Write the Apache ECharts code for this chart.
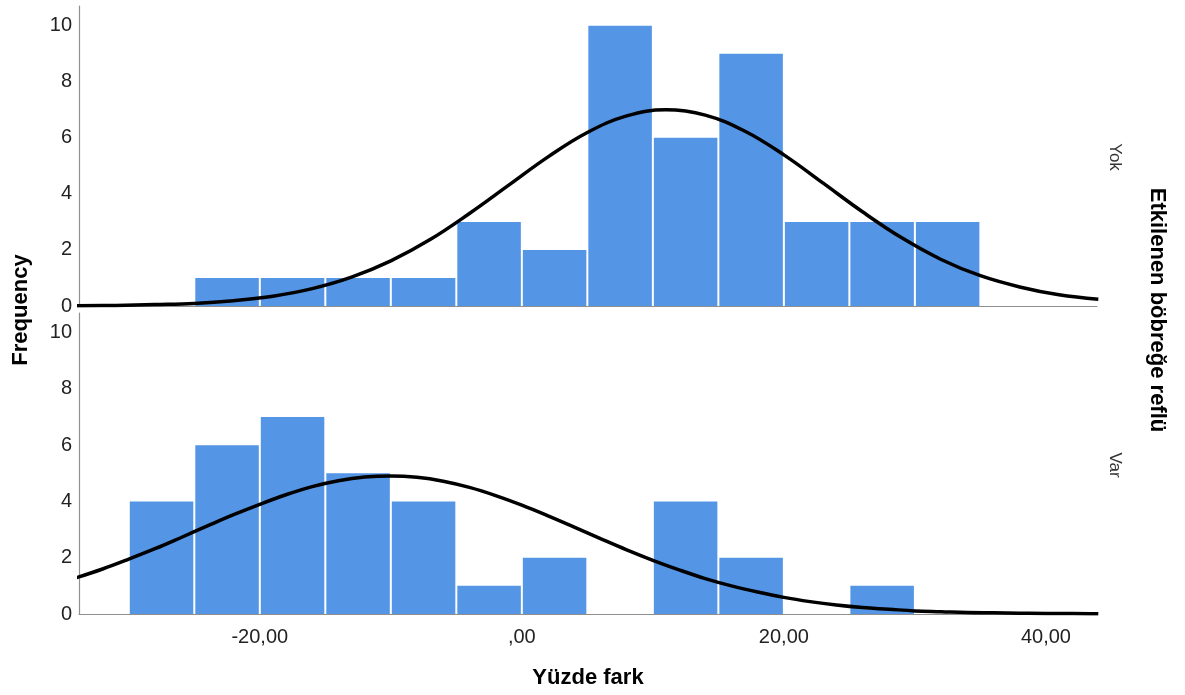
<!DOCTYPE html>
<html>
<head>
<meta charset="utf-8">
<script src="https://cdn.jsdelivr.net/npm/echarts@6/dist/echarts.min.js"></script>
<style>
html,body{margin:0;padding:0;background:#fff;}
#chart{width:1185px;height:695px;}
</style>
</head>
<body>
<div id="chart"></div>
<script>
// ---- data ----
const binStarts = [-30, -25, -20, -15, -10, -5, 0, 5, 10, 15, 20, 25, 30];
const binWidth = 5;
const countsYok = [0, 1, 1, 1, 1, 3, 2, 10, 6, 9, 3, 3, 3];
const countsVar = [4, 6, 7, 5, 4, 1, 2, 0, 4, 2, 0, 1, 0];
const curveXYok = [-34,-31,-28,-25,-22,-19,-16,-13,-10,-7,-4,-1,2,5,8,11,14,17,20,23,26,29,32,35,38,41,44];
const curveYok = [0.01,0.02,0.05,0.09,0.19,0.35,0.62,1.03,1.61,2.37,3.30,4.31,5.32,6.19,6.78,7.00,6.81,6.24,5.39,4.38,3.36,2.43,1.66,1.08,0.68,0.40,0.24];
const curveXVar = [-34,-32,-30,-28,-26,-24,-22,-20,-18,-16,-14,-12,-10,-8,-6,-4,-2,0,2,4,6,8,10,12,14,16,18,20,22,24,26,28,30,32,34,36,38,40,42,44];
const curveVar = [1.29,1.60,1.95,2.32,2.72,3.13,3.53,3.90,4.24,4.53,4.74,4.87,4.91,4.86,4.72,4.50,4.21,3.87,3.49,3.09,2.68,2.28,1.91,1.57,1.26,1.00,0.78,0.59,0.44,0.32,0.23,0.17,0.11,0.08,0.05,0.04,0.03,0.02,0.02,0.01];
const xTickValues = [-20, 0, 20, 40];
const xTickLabels = ['-20,00', ',00', '20,00', '40,00'];
const yTickValues = [0, 2, 4, 6, 8, 10];
const panelNames = ['Yok', 'Var'];
const xTitle = 'Yüzde fark';
const yTitle = 'Frequency';
const facetTitle = 'Etkilenen böbreğe reflü';

// ---- chart ----
const barColor = '#5495e5';
const fontFam = 'Arial, "Liberation Sans", sans-serif';
const X_MIN = -33.8, X_MAX = 43.9, Y_MAX = 10.7;

function histData(counts){
  return binStarts.map((s, i) => [s, s + binWidth, counts[i]]);
}
function curveData(xs, ys){
  return xs.map((x, i) => [x, ys[i]]);
}
function renderBar(params, api){
  const x0 = api.value(0), x1 = api.value(1), c = api.value(2);
  if (!c) return null;
  const p0 = api.coord([x0, c]);
  const p1 = api.coord([x1, 0]);
  return {
    type: 'rect',
    shape: {x: p0[0] + 1, y: p0[1], width: p1[0] - p0[0] - 2, height: p1[1] - p0[1]},
    style: {fill: barColor}
  };
}
const axisLineStyle = {color: '#8f8f8f', width: 1.2};
function xAxis(idx, showLabels){
  return {
    type: 'value', gridIndex: idx, min: X_MIN, max: X_MAX,
    axisLine: {show: true, onZero: false, lineStyle: axisLineStyle},
    axisTick: {show: false},
    splitLine: {show: false},
    axisLabel: {
      show: showLabels,
      customValues: xTickValues,
      formatter: v => xTickLabels[xTickValues.indexOf(v)] || '',
      fontSize: 20, color: '#222', fontFamily: fontFam, margin: 13
    }
  };
}
function yAxis(idx){
  return {
    type: 'value', gridIndex: idx, min: 0, max: Y_MAX,
    axisLine: {show: true, onZero: false, lineStyle: axisLineStyle},
    axisTick: {show: false},
    splitLine: {show: false},
    axisLabel: {
      customValues: yTickValues,
      fontSize: 20, color: '#222', fontFamily: fontFam, margin: 7
    }
  };
}
const chart = echarts.init(document.getElementById('chart'), null, {renderer: 'canvas'});
chart.setOption({
  backgroundColor: '#fff',
  animation: false,
  grid: [
    {left: 79, top: 6, width: 1018, height: 300},
    {left: 79, top: 313, width: 1018, height: 301}
  ],
  xAxis: [xAxis(0, false), xAxis(1, true)],
  yAxis: [yAxis(0), yAxis(1)],
  series: [
    {type: 'custom', xAxisIndex: 0, yAxisIndex: 0, data: histData(countsYok), encode: {x: [0, 1], y: 2}, renderItem: renderBar, z: 1},
    {type: 'custom', xAxisIndex: 1, yAxisIndex: 1, data: histData(countsVar), encode: {x: [0, 1], y: 2}, renderItem: renderBar, z: 1},
    {type: 'line', xAxisIndex: 0, yAxisIndex: 0, data: curveData(curveXYok, curveYok), smooth: 0.4, smoothMonotone: 'none', showSymbol: false, clip: true,
     lineStyle: {color: '#000', width: 3.5}, z: 3},
    {type: 'line', xAxisIndex: 1, yAxisIndex: 1, data: curveData(curveXVar, curveVar), smooth: 0.4, smoothMonotone: 'none', showSymbol: false, clip: true,
     lineStyle: {color: '#000', width: 3.5}, z: 3}
  ],
  graphic: [
    {type: 'text', x: 21, y: 310, rotation: Math.PI / 2,
     style: {text: yTitle, font: 'bold 22px ' + fontFam, fill: '#000', align: 'center', verticalAlign: 'middle'}},
    {type: 'text', x: 588, y: 678,
     style: {text: xTitle, font: 'bold 22px ' + fontFam, fill: '#000', align: 'center', verticalAlign: 'middle'}},
    {type: 'text', x: 1157, y: 310, rotation: -Math.PI / 2,
     style: {text: facetTitle, font: 'bold 22px ' + fontFam, fill: '#000', align: 'center', verticalAlign: 'middle'}},
    {type: 'text', x: 1115, y: 157, rotation: -Math.PI / 2,
     style: {text: panelNames[0], font: '17px ' + fontFam, fill: '#333', align: 'center', verticalAlign: 'middle'}},
    {type: 'text', x: 1115, y: 465, rotation: -Math.PI / 2,
     style: {text: panelNames[1], font: '17px ' + fontFam, fill: '#333', align: 'center', verticalAlign: 'middle'}}
  ]
});
</script>
</body>
</html>
